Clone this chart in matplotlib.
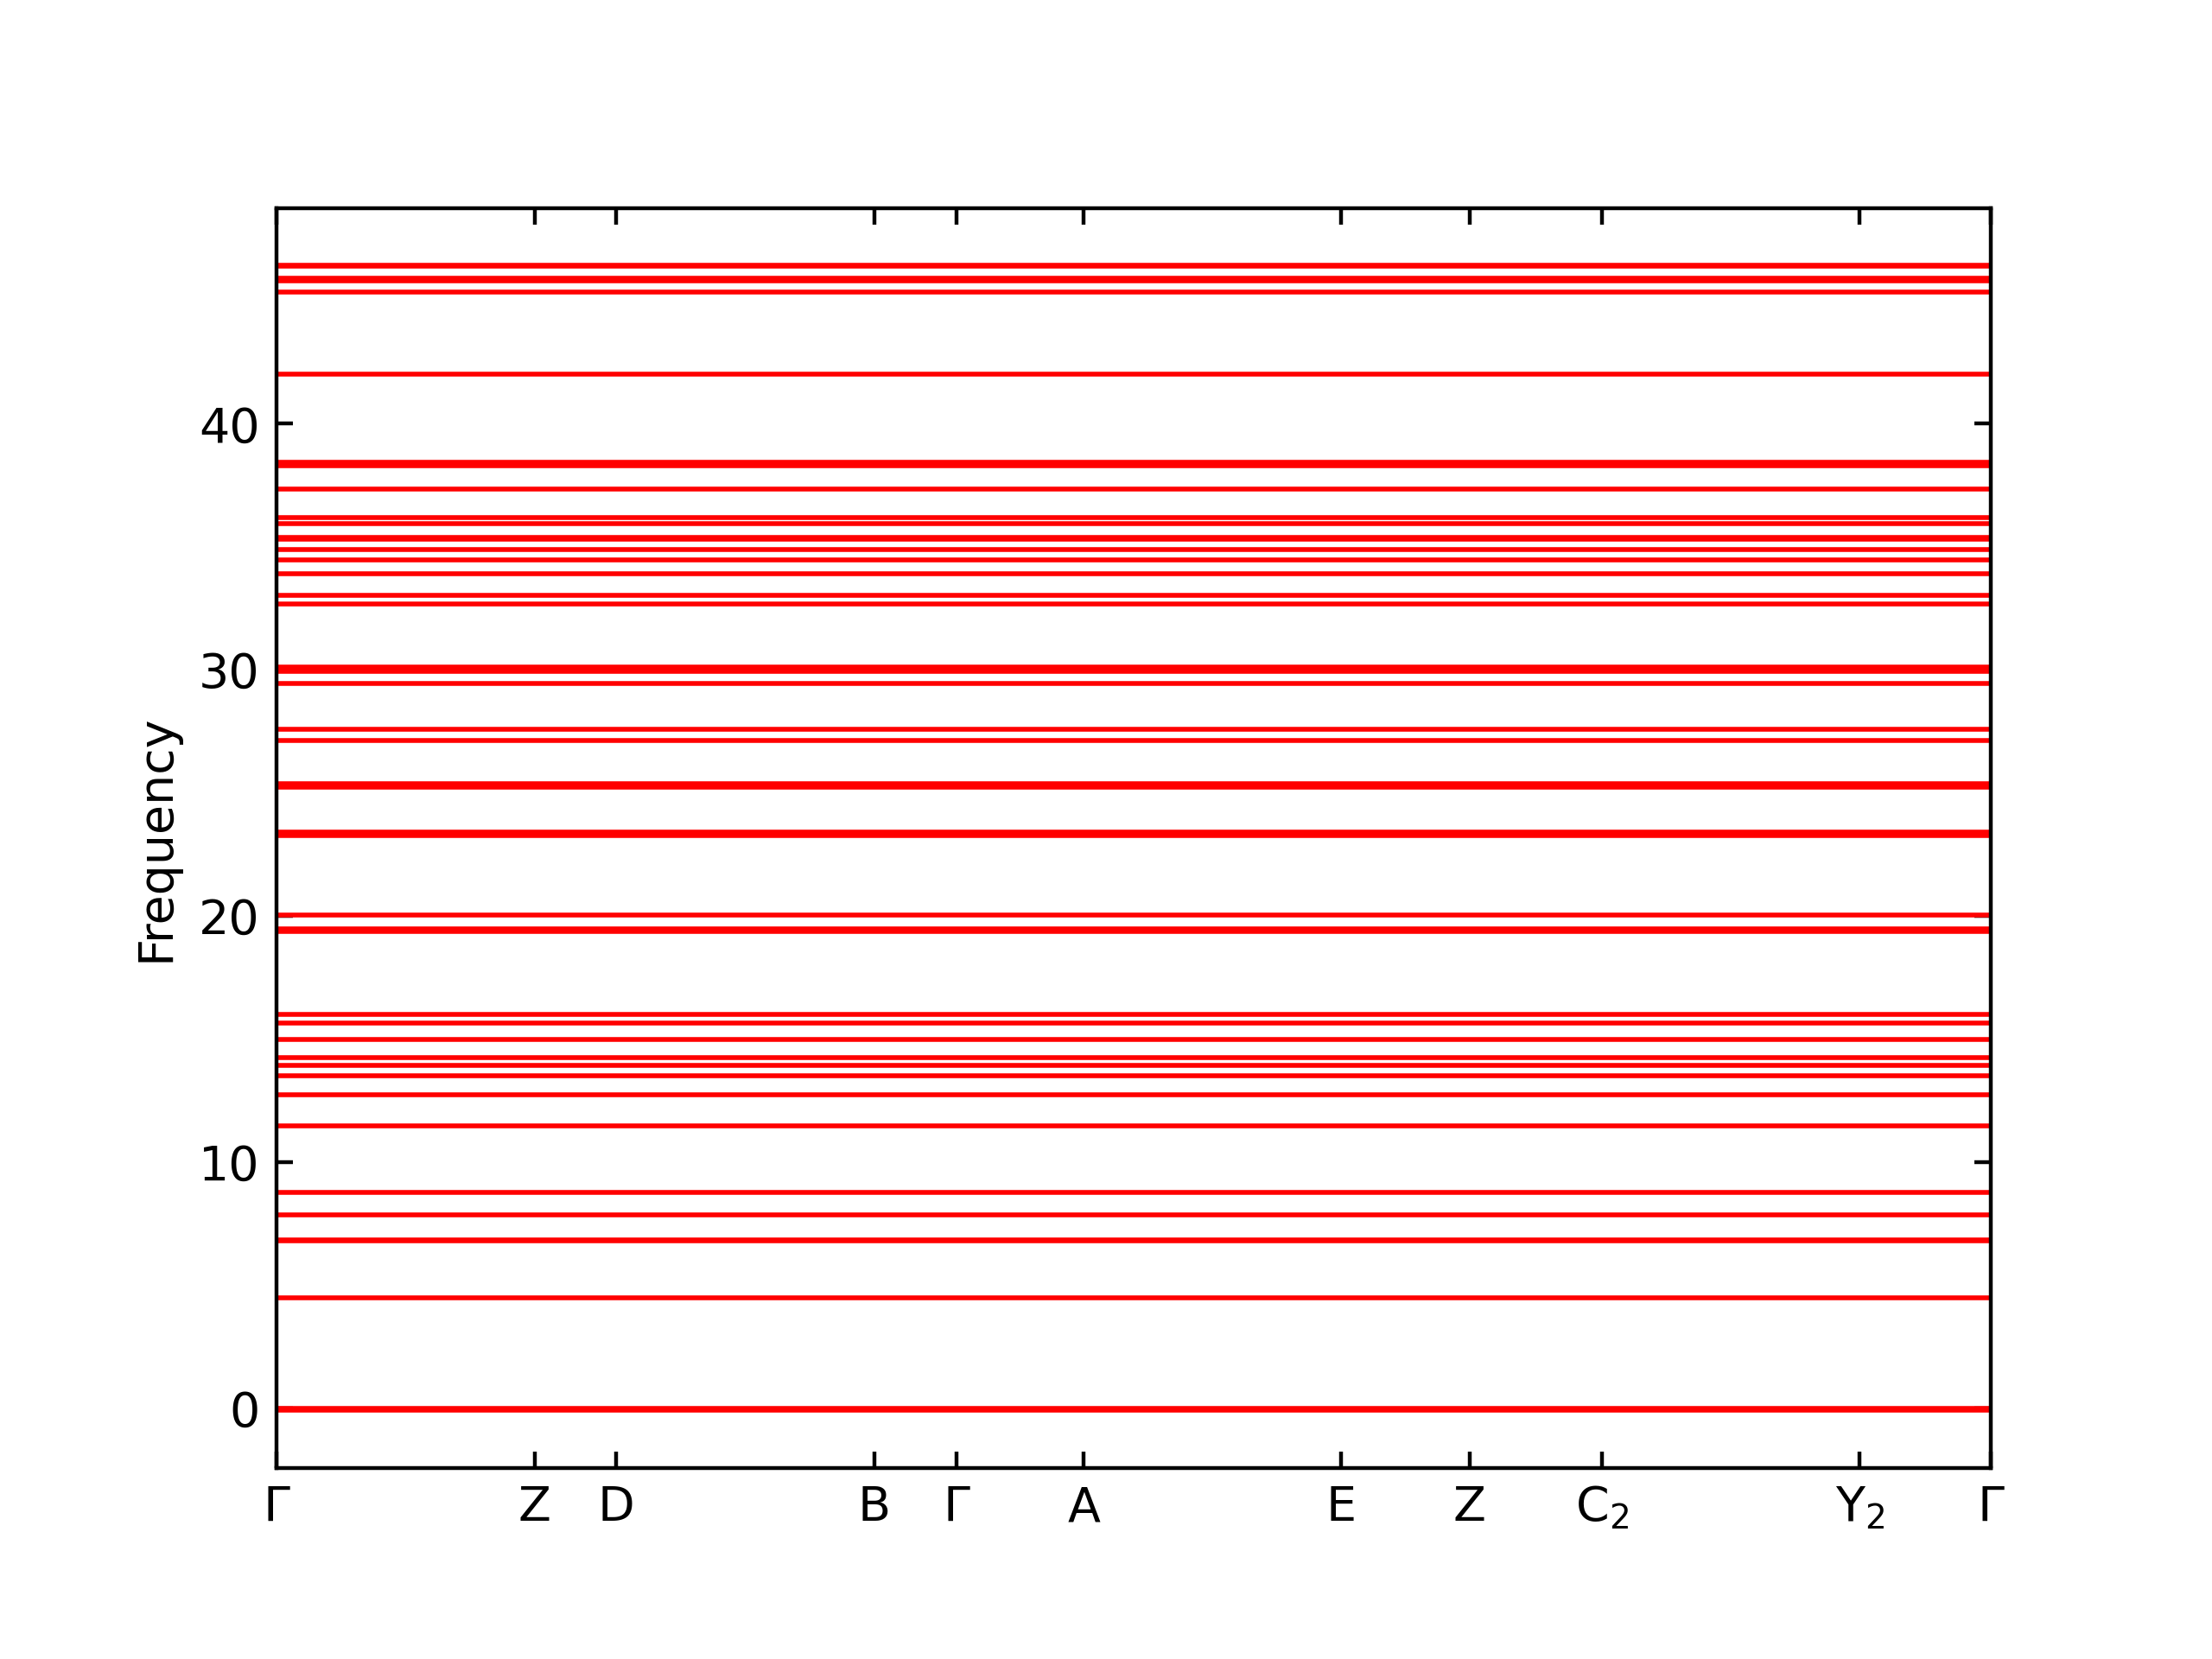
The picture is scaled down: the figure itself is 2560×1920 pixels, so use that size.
import matplotlib
matplotlib.use("Agg")
import matplotlib.pyplot as plt
import numpy as np

# High-symmetry k-point labels and their positions along the path
kpoint_labels = [r"$\Gamma$", "Z", "D", "B", r"$\Gamma$", "A", "E", "Z",
                 r"C$_2$", r"Y$_2$", r"$\Gamma$"]
kpoint_positions = [0.0, 0.1507, 0.198, 0.3488, 0.3966, 0.471, 0.6212,
                    0.696, 0.773, 0.9236, 1.0]

# Flat phonon band frequencies
band_frequencies = [
    -0.08, -0.05, -0.02,
    4.49, 6.80, 6.84, 7.87, 8.77,
    11.48, 12.75, 13.49, 13.91, 14.26, 14.99, 15.66, 16.01,
    19.38, 19.48, 20.05,
    23.26, 23.40, 25.24, 25.38,
    27.14, 27.60, 29.43, 29.92, 30.02, 30.12,
    32.69, 33.04, 33.92, 34.45, 34.87, 35.31, 35.37, 35.95, 36.20,
    37.33, 38.29, 38.43,
    42.03, 45.36, 45.80, 45.90, 46.40, 46.45,
]

fig = plt.figure(figsize=(6.4, 4.8), dpi=400)
ax = fig.add_axes([0.125, 0.1153, 0.775, 0.7594])

for f in band_frequencies:
    ax.plot([kpoint_positions[0], kpoint_positions[-1]], [f, f],
            color="red", linewidth=1.0)

ax.set_xlim(kpoint_positions[0], kpoint_positions[-1])
ax.set_ylim(-2.42, 48.77)
ax.set_xticks(kpoint_positions)
ax.set_xticklabels(kpoint_labels)
ax.set_yticks([0, 10, 20, 30, 40])
ax.set_ylabel("Frequency")
ax.tick_params(direction="in", top=True, right=True)

fig.savefig("out.png", dpi=400)
